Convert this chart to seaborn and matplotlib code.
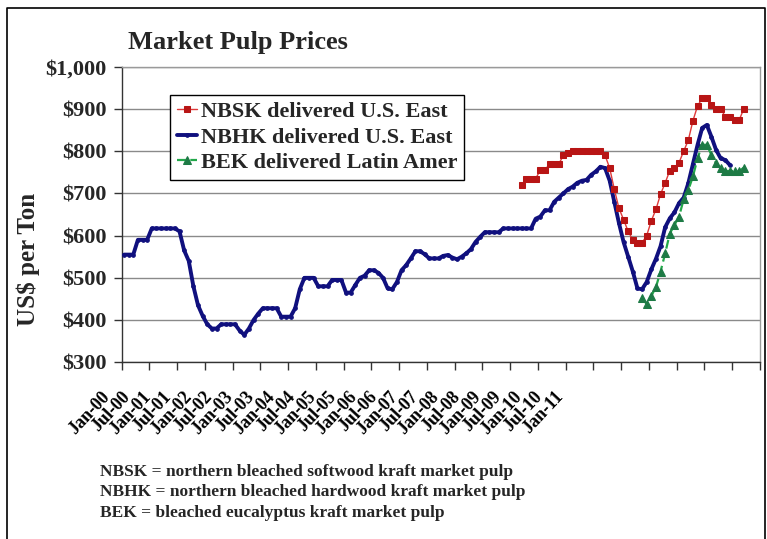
import numpy as np
import pandas as pd
import matplotlib
matplotlib.use("Agg")
import matplotlib.pyplot as plt
import matplotlib.transforms as mtransforms
from matplotlib.lines import Line2D
import seaborn as sns

# ---- data: monthly market pulp prices, US$ per ton ----
nbhk_start = "2000-01"
nbhk = [555, 555, 555, 590, 590, 590, 617, 617, 617, 617, 617, 617,
        610, 565, 540, 480, 435, 410, 390, 380, 380, 390, 390, 390,
        390, 375, 365, 380, 400, 415, 428, 428, 428, 428, 408, 408,
        408, 428, 473, 500, 500, 500, 480, 480, 480, 495, 495, 495,
        465, 465, 483, 500, 505, 518, 518, 512, 500, 475, 473, 490,
        518, 530, 546, 563, 563, 556, 546, 546, 546, 552, 554, 548,
        544, 550, 558, 568, 585, 597, 608, 608, 608, 608, 617, 617,
        617, 617, 617, 617, 617, 640, 645, 660, 660, 680, 690, 700,
        710, 716, 725, 730, 732, 744, 752, 763, 760, 730, 680, 630,
        585, 550, 515, 475, 473, 490, 520, 545, 575, 620, 641, 655,
        677, 690, 724, 770, 815, 855, 862, 834, 803, 783, 779, 767]

nbsk_start = "2007-03"
nbsk = [720, 735, 735, 735, 755, 755, 770, 770, 770, 790, 795,
        800, 800, 800, 800, 800, 800, 800, 790, 760, 710, 665, 638,
        610, 590, 583, 583, 600, 635, 662, 698, 725, 754, 760, 773,
        800, 826, 872, 907, 925, 925, 910, 900, 900, 882, 882, 874,
        874, 900]

bek_start = "2009-05"
bek = [452, 438, 457, 478, 515, 558, 605, 625, 645, 686, 708, 740,
       783, 815, 815, 791, 771, 759, 753, 753, 753, 753, 761]

series_names = ["NBSK delivered U.S. East",
                "NBHK delivered U.S. East",
                "BEK delivered Latin Amer"]

tick_labels = ["Jan-00", "Jul-00", "Jan-01", "Jul-01", "Jan-02", "Jul-02",
               "Jan-03", "Jul-03", "Jan-04", "Jul-04", "Jan-05", "Jul-05",
               "Jan-06", "Jul-06", "Jan-07", "Jul-07", "Jan-08", "Jul-08",
               "Jan-09", "Jul-09", "Jan-10", "Jul-10", "Jan-11"]
y_ticks = [300, 400, 500, 600, 700, 800, 900, 1000]

footnotes = ["NBSK = northern bleached softwood kraft market pulp",
             "NBHK = northern bleached hardwood kraft market pulp",
             "BEK = bleached eucalyptus kraft market pulp"]

origin = pd.Timestamp("2000-01-01")


def frame(start, values):
    dates = pd.date_range(start, periods=len(values), freq="MS")
    months = (dates.year - origin.year) * 12 + (dates.month - origin.month)
    return pd.DataFrame({"pos": np.asarray(months) + 0.5, "price": values})


df_nbsk = frame(nbsk_start, nbsk)
df_nbhk = frame(nbhk_start, nbhk)
df_bek = frame(bek_start, bek)

# ---- figure ----
sns.set_theme(style="white")
plt.rcParams["font.family"] = ["Liberation Serif", "DejaVu Serif"]
plt.rcParams["font.weight"] = "bold"

W, H = 767, 539
fig = plt.figure(figsize=(W / 100, H / 100), dpi=100)
fig.patch.set_facecolor("white")

x0, x1, ytop, ybot = 121.7, 760.0, 66.7, 362.3
ax = fig.add_axes([x0 / W, 1 - ybot / H, (x1 - x0) / W, (ybot - ytop) / H])
ax.set_facecolor("white")

sns.lineplot(data=df_nbsk, x="pos", y="price", ax=ax, color="#e03a3a",
             lw=1.0, marker="s", markersize=4.5, markerfacecolor="#b81515",
             markeredgecolor="#b81515", label=series_names[0], zorder=4)
sns.lineplot(data=df_nbhk, x="pos", y="price", ax=ax, color="#10107e",
             lw=2.8, marker="o", markersize=2.6, markerfacecolor="#10107e",
             markeredgecolor="#10107e", label=series_names[1], zorder=3)
sns.lineplot(data=df_bek, x="pos", y="price", ax=ax, color="#22a84a",
             lw=1.6, linestyle=(0, (4, 2)), marker="^", markersize=6,
             markerfacecolor="#1d7a45", markeredgecolor="#1d7a45",
             label=series_names[2], zorder=5)

ax.set_xlim(0, 138)
ax.set_ylim(300, 1000)
ax.set_yticks(y_ticks)
ax.set_yticklabels([f"${v:,}" for v in y_ticks])
ax.yaxis.grid(True, color="#8a8a8a", lw=1.0)
ax.set_axisbelow(True)
ax.set_xlabel("")
ax.set_ylabel("")

ax.set_xticks(np.arange(0, 139, 6))
ax.set_xticklabels([])
ax.tick_params(axis="x", direction="out", length=6, width=1, color="#333333",
               bottom=True)
ax.tick_params(axis="y", direction="out", length=6, width=1, color="#333333",
               left=True, labelsize=16, pad=5)
for lab in ax.get_yticklabels():
    lab.set_fontweight("bold")

for side in ("left", "bottom"):
    ax.spines[side].set_color("#333333")
    ax.spines[side].set_linewidth(1.0)
for side in ("top", "right"):
    ax.spines[side].set_color("#9a9a9a")
    ax.spines[side].set_linewidth(1.0)

# slanted category labels under the axis
trans = mtransforms.blended_transform_factory(ax.transData, ax.transAxes)
for k, lab in enumerate(tick_labels):
    xpx = 107 + 20.6 * k
    xpos = (xpx - x0) / ((x1 - x0) / 138)
    ax.text(xpos, -(394 - ybot) / (ybot - ytop), lab, transform=trans,
            rotation=47, rotation_mode="anchor", ha="right", va="center",
            fontsize=13, fontweight="bold", color="black")

leg = ax.legend(loc="upper left", bbox_to_anchor=(170 / W, 1 - 95 / H),
                bbox_transform=fig.transFigure, frameon=True, fancybox=False,
                framealpha=1, edgecolor="black",
                prop=dict(family="Liberation Serif", weight="bold", size=16),
                handlelength=0.9, handletextpad=0.2, borderpad=0.3,
                labelspacing=0.22, borderaxespad=0)
leg.get_frame().set_linewidth(1.0)

fig.text(238 / W, 1 - 42 / H, "Market Pulp Prices", ha="center", va="center",
         fontsize=19, fontweight="bold")
fig.text(28 / W, 1 - 259 / H, "US$ per Ton", ha="center", va="center",
         rotation=90, fontsize=18, fontweight="bold")
for i, note in enumerate(footnotes):
    fig.text(100 / W, 1 - (472 + 20.5 * i) / H, note, ha="left",
             va="center", fontsize=12.5, fontweight="bold")

# outer frame around the whole chart
fig.add_artist(Line2D([7 / W, 7 / W, 765 / W, 765 / W],
                      [0, 1 - 8 / H, 1 - 8 / H, 0],
                      transform=fig.transFigure, color="black", lw=1.2))

fig.savefig("out.png", dpi=100, facecolor="white")
